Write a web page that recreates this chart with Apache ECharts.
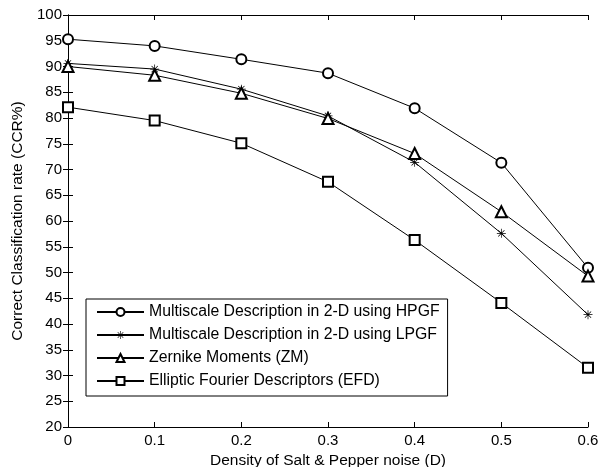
<!DOCTYPE html>
<html>
<head>
<meta charset="utf-8">
<script src="https://cdn.jsdelivr.net/npm/echarts@6/dist/echarts.min.js"></script>
<style>
  html, body { margin: 0; padding: 0; background: #fff; }
  #chart { width: 600px; height: 467px; }
</style>
</head>
<body>
<div id="chart"></div>
<script>
// 噪声密度（横轴）
const noiseDensity = [0, 0.1, 0.2, 0.3, 0.4, 0.5, 0.6]

// 各方法的正确分类率（CCR%）
const hpgf = [95.3, 94.0, 91.4, 88.7, 81.9, 71.3, 50.9]
const lpgf = [90.6, 89.5, 85.6, 80.4, 71.4, 57.6, 41.8]
const zm = [90.0, 88.3, 84.8, 79.9, 73.1, 61.8, 49.3]
const efd = [82.1, 79.5, 75.1, 67.6, 56.3, 44.1, 31.5]

const seriesNames = [
  'Multiscale Description in 2-D using HPGF',
  'Multiscale Description in 2-D using LPGF',
  'Zernike Moments (ZM)',
  'Elliptic Fourier Descriptors (EFD)',
]

// MATLAB 风格的 "*" 标记（四根细条拼成）
const asterisk = 'path://M-0.8,-10L0.8,-10L0.8,10L-0.8,10Z' +
  'M-10,-0.8L10,-0.8L10,0.8L-10,0.8Z' +
  'M-6.4,-7.5L7.5,6.4L6.4,7.5L-7.5,-6.4Z' +
  'M-6.4,7.5L-7.5,6.4L6.4,-7.5L7.5,-6.4Z'

const font = 'Liberation Sans, Arial, sans-serif'

function pairs(values) {
  return noiseDensity.map((x, i) => [x, values[i]])
}

function makeSeries(name, values, symbol, size) {
  const isStar = symbol === asterisk
  return {
    name,
    type: 'line',
    data: pairs(values),
    symbol,
    symbolSize: size,
    showAllSymbol: true,
    lineStyle: { color: '#000', width: 1 },
    itemStyle: { color: '#000', borderColor: '#000', borderWidth: isStar ? 0 : 1 },
    emphasis: { disabled: true },
    animation: false,
  }
}

const chart = echarts.init(document.getElementById('chart'))

const tickStyle = { inside: true, length: 5, lineStyle: { color: '#000' } }
const lineStyle = { lineStyle: { color: '#000', width: 1 } }

chart.setOption({
  backgroundColor: '#fff',
  animation: false,
  // v6 默认会把轴标签挤进容器，这里关掉，按像素定位
  grid: { left: 68, right: 12, top: 15, bottom: 40, containLabel: false, outerBoundsMode: 'none' },
  legend: {
    orient: 'vertical',
    left: 86,
    top: 299,
    backgroundColor: '#fff',
    borderColor: '#000',
    borderWidth: 1,
    padding: [5, 8, 7, 10],
    itemGap: 7,
    itemWidth: 47,
    itemHeight: 10,
    textStyle: { fontFamily: font, fontSize: 15.8, color: '#000' },
    data: seriesNames,
  },
  xAxis: [
    {
      type: 'value',
      min: 0,
      max: 0.6,
      interval: 0.1,
      name: 'Density of Salt & Pepper noise (D)',
      nameLocation: 'middle',
      nameGap: 25,
      nameTextStyle: { fontFamily: font, fontSize: 15.5, color: '#000' },
      axisLine: lineStyle,
      axisTick: tickStyle,
      axisLabel: { fontFamily: font, fontSize: 15, color: '#000', margin: 6 },
      splitLine: { show: false },
    },
    {
      type: 'value',
      position: 'top',
      min: 0,
      max: 0.6,
      interval: 0.1,
      axisLine: lineStyle,
      axisTick: tickStyle,
      axisLabel: { show: false },
      splitLine: { show: false },
    },
  ],
  yAxis: [
    {
      type: 'value',
      min: 20,
      max: 100,
      interval: 5,
      name: 'Correct Classification rate (CCR%)',
      nameLocation: 'middle',
      nameGap: 40,
      nameTextStyle: { fontFamily: font, fontSize: 15.5, color: '#000' },
      axisLine: { show: true, ...lineStyle },
      axisTick: tickStyle,
      axisLabel: { fontFamily: font, fontSize: 15, color: '#000', margin: 6 },
      splitLine: { show: false },
    },
    {
      type: 'value',
      position: 'right',
      min: 20,
      max: 100,
      interval: 5,
      axisLine: { show: true, ...lineStyle },
      axisTick: tickStyle,
      axisLabel: { show: false },
      splitLine: { show: false },
    },
  ],
  series: [
    makeSeries(seriesNames[0], hpgf, 'emptyCircle', 10),
    makeSeries(seriesNames[1], lpgf, asterisk, 9),
    makeSeries(seriesNames[2], zm, 'emptyTriangle', 11),
    makeSeries(seriesNames[3], efd, 'emptyRect', 10),
  ],
})
</script>
</body>
</html>
